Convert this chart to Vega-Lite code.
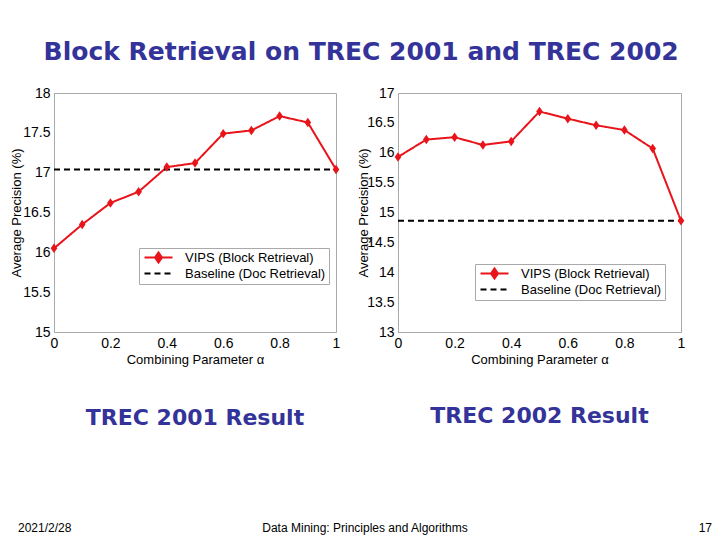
{
  "$schema": "https://vega.github.io/schema/vega-lite/v6.json",
  "background": "white",
  "padding": {"left": 10, "top": 39, "right": 0, "bottom": 0},
  "title": {
    "text": "Block Retrieval on TREC 2001 and TREC 2002",
    "font": "DejaVu Sans",
    "fontSize": 25,
    "fontWeight": "bold",
    "color": "#333399",
    "anchor": "middle",
    "offset": 21
  },
  "datasets": {
    "trec2001": [
      {"alpha": 0.0, "precision": 16.05, "series": "VIPS (Block Retrieval)"},
      {"alpha": 0.1, "precision": 16.35, "series": "VIPS (Block Retrieval)"},
      {"alpha": 0.2, "precision": 16.62, "series": "VIPS (Block Retrieval)"},
      {"alpha": 0.3, "precision": 16.76, "series": "VIPS (Block Retrieval)"},
      {"alpha": 0.4, "precision": 17.07, "series": "VIPS (Block Retrieval)"},
      {"alpha": 0.5, "precision": 17.12, "series": "VIPS (Block Retrieval)"},
      {"alpha": 0.6, "precision": 17.49, "series": "VIPS (Block Retrieval)"},
      {"alpha": 0.7, "precision": 17.53, "series": "VIPS (Block Retrieval)"},
      {"alpha": 0.8, "precision": 17.71, "series": "VIPS (Block Retrieval)"},
      {"alpha": 0.9, "precision": 17.63, "series": "VIPS (Block Retrieval)"},
      {"alpha": 1.0, "precision": 17.04, "series": "VIPS (Block Retrieval)"},
      {"alpha": 0.0, "precision": 17.04, "series": "Baseline (Doc Retrieval)"},
      {"alpha": 1.0, "precision": 17.04, "series": "Baseline (Doc Retrieval)"}
    ],
    "trec2002": [
      {"alpha": 0.0, "precision": 15.93, "series": "VIPS (Block Retrieval)"},
      {"alpha": 0.1, "precision": 16.22, "series": "VIPS (Block Retrieval)"},
      {"alpha": 0.2, "precision": 16.26, "series": "VIPS (Block Retrieval)"},
      {"alpha": 0.3, "precision": 16.13, "series": "VIPS (Block Retrieval)"},
      {"alpha": 0.4, "precision": 16.19, "series": "VIPS (Block Retrieval)"},
      {"alpha": 0.5, "precision": 16.69, "series": "VIPS (Block Retrieval)"},
      {"alpha": 0.6, "precision": 16.57, "series": "VIPS (Block Retrieval)"},
      {"alpha": 0.7, "precision": 16.46, "series": "VIPS (Block Retrieval)"},
      {"alpha": 0.8, "precision": 16.38, "series": "VIPS (Block Retrieval)"},
      {"alpha": 0.9, "precision": 16.07, "series": "VIPS (Block Retrieval)"},
      {"alpha": 1.0, "precision": 14.86, "series": "VIPS (Block Retrieval)"},
      {"alpha": 0.0, "precision": 14.86, "series": "Baseline (Doc Retrieval)"},
      {"alpha": 1.0, "precision": 14.86, "series": "Baseline (Doc Retrieval)"}
    ],
    "footer": [
      {"label": "2021/2/28", "slot": "left"},
      {"label": "Data Mining: Principles and Algorithms", "slot": "center"},
      {"label": "17", "slot": "right"}
    ]
  },
  "vconcat": [
    {
      "hconcat": [
        {
          "width": 282,
          "height": 239,
          "title": {
            "text": "TREC 2001 Result",
            "orient": "bottom",
            "frame": "group",
            "anchor": "middle",
            "offset": 42,
            "font": "DejaVu Sans",
            "fontSize": 22,
            "fontWeight": "bold",
            "color": "#333399"
          },
          "data": {"name": "trec2001"},
          "encoding": {
            "x": {
              "field": "alpha", "type": "quantitative",
              "scale": {"domain": [0, 1], "nice": false},
              "axis": {"title": "Combining Parameter α", "values": [0, 0.2, 0.4, 0.6, 0.8, 1], "labelExpr": "datum.value", "labelFlush": false}
            },
            "y": {
              "field": "precision", "type": "quantitative",
              "scale": {"domain": [15, 18], "nice": false, "zero": false},
              "axis": {"title": "Average Precision (%)", "titlePadding": -1, "values": [15, 15.5, 16, 16.5, 17, 17.5, 18], "labelExpr": "datum.value"}
            }
          },
          "layer": [
            {
              "mark": {"type": "line", "strokeWidth": 2},
              "encoding": {
                "color": {
                  "field": "series", "type": "nominal",
                  "scale": {"domain": ["VIPS (Block Retrieval)", "Baseline (Doc Retrieval)"], "range": ["#e8141a", "#000000"]},
                  "legend": {
                    "title": null, "orient": "none", "legendX": 85, "legendY": 155,
                    "encode": {"symbols": {"update": {
                      "shape": {"signal": "datum.value === 'VIPS (Block Retrieval)' ? 'M-2.8,0H2.8M0,-1L0.7,0L0,1L-0.7,0Z' : 'M-2.8,0H2.8'"},
                      "fill": {"signal": "datum.value === 'VIPS (Block Retrieval)' ? '#e8141a' : 'transparent'"},
                      "strokeDash": {"signal": "datum.value === 'VIPS (Block Retrieval)' ? [1,0] : [6,4]"}
                    }}}
                  }
                },
                "strokeDash": {
                  "field": "series", "type": "nominal",
                  "scale": {"domain": ["VIPS (Block Retrieval)", "Baseline (Doc Retrieval)"], "range": [[1, 0], [6, 4]]},
                  "legend": null
                }
              }
            },
            {
              "transform": [{"filter": "datum.series === 'VIPS (Block Retrieval)'"}],
              "mark": {"type": "point", "shape": "M0,-1L0.7,0L0,1L-0.7,0Z", "filled": true, "size": 90, "opacity": 1, "color": "#e8141a"}
            }
          ]
        },
        {
          "width": 283,
          "height": 239,
          "title": {
            "text": "TREC 2002 Result",
            "orient": "bottom",
            "frame": "group",
            "anchor": "middle",
            "offset": 40,
            "font": "DejaVu Sans",
            "fontSize": 22,
            "fontWeight": "bold",
            "color": "#333399"
          },
          "data": {"name": "trec2002"},
          "encoding": {
            "x": {
              "field": "alpha", "type": "quantitative",
              "scale": {"domain": [0, 1], "nice": false},
              "axis": {"title": "Combining Parameter α", "values": [0, 0.2, 0.4, 0.6, 0.8, 1], "labelExpr": "datum.value", "labelFlush": false}
            },
            "y": {
              "field": "precision", "type": "quantitative",
              "scale": {"domain": [13, 17], "nice": false, "zero": false},
              "axis": {"title": "Average Precision (%)", "titlePadding": -4, "values": [13, 13.5, 14, 14.5, 15, 15.5, 16, 16.5, 17], "labelExpr": "datum.value"}
            }
          },
          "layer": [
            {
              "mark": {"type": "line", "strokeWidth": 2},
              "encoding": {
                "color": {
                  "field": "series", "type": "nominal",
                  "scale": {"domain": ["VIPS (Block Retrieval)", "Baseline (Doc Retrieval)"], "range": ["#e8141a", "#000000"]},
                  "legend": {
                    "title": null, "orient": "none", "legendX": 77, "legendY": 171,
                    "encode": {"symbols": {"update": {
                      "shape": {"signal": "datum.value === 'VIPS (Block Retrieval)' ? 'M-2.8,0H2.8M0,-1L0.7,0L0,1L-0.7,0Z' : 'M-2.8,0H2.8'"},
                      "fill": {"signal": "datum.value === 'VIPS (Block Retrieval)' ? '#e8141a' : 'transparent'"},
                      "strokeDash": {"signal": "datum.value === 'VIPS (Block Retrieval)' ? [1,0] : [6,4]"}
                    }}}
                  }
                },
                "strokeDash": {
                  "field": "series", "type": "nominal",
                  "scale": {"domain": ["VIPS (Block Retrieval)", "Baseline (Doc Retrieval)"], "range": [[1, 0], [6, 4]]},
                  "legend": null
                }
              }
            },
            {
              "transform": [{"filter": "datum.series === 'VIPS (Block Retrieval)'"}],
              "mark": {"type": "point", "shape": "M0,-1L0.7,0L0,1L-0.7,0Z", "filled": true, "size": 90, "opacity": 1, "color": "#e8141a"}
            }
          ]
        }
      ],
      "spacing": 16,
      "resolve": {"scale": {"color": "independent", "strokeDash": "independent"}}
    },
    {
      "width": 604,
      "height": 20,
      "view": {"stroke": null},
      "data": {"name": "footer"},
      "encoding": {
        "x": {"field": "slot", "type": "nominal", "scale": {"type": "point", "domain": ["left", "center", "right"], "range": [-36, 658], "padding": 0}, "axis": null},
        "text": {"field": "label", "type": "nominal"}
      },
      "layer": [
        {"transform": [{"filter": "datum.slot === 'left'"}], "mark": {"type": "text", "align": "left", "baseline": "middle", "font": "Liberation Sans", "fontSize": 12, "color": "black"}},
        {"transform": [{"filter": "datum.slot === 'center'"}], "mark": {"type": "text", "align": "center", "baseline": "middle", "font": "Liberation Sans", "fontSize": 12, "color": "black"}},
        {"transform": [{"filter": "datum.slot === 'right'"}], "mark": {"type": "text", "align": "right", "baseline": "middle", "font": "Liberation Sans", "fontSize": 12, "color": "black"}}
      ]
    }
  ],
  "spacing": 88,
  "config": {
    "font": "Liberation Sans",
    "view": {"stroke": "#aaaaaa", "strokeWidth": 1},
    "axis": {
      "grid": false, "ticks": false, "labelPadding": 4,
      "labelFontSize": 14, "titleFontSize": 13, "titleFontWeight": "normal",
      "labelColor": "black", "titleColor": "black",
      "labelFont": "Liberation Sans", "titleFont": "Liberation Sans",
      "domainColor": "#aaaaaa", "titlePadding": 3
    },
    "legend": {
      "labelFontSize": 13, "labelColor": "black", "labelFont": "Liberation Sans",
      "strokeColor": "#aaaaaa", "fillColor": "white", "padding": 3,
      "symbolSize": 100, "symbolStrokeWidth": 2, "symbolOffset": 10,
      "labelOffset": 20, "rowPadding": 0, "labelLimit": 300
    }
  }
}
